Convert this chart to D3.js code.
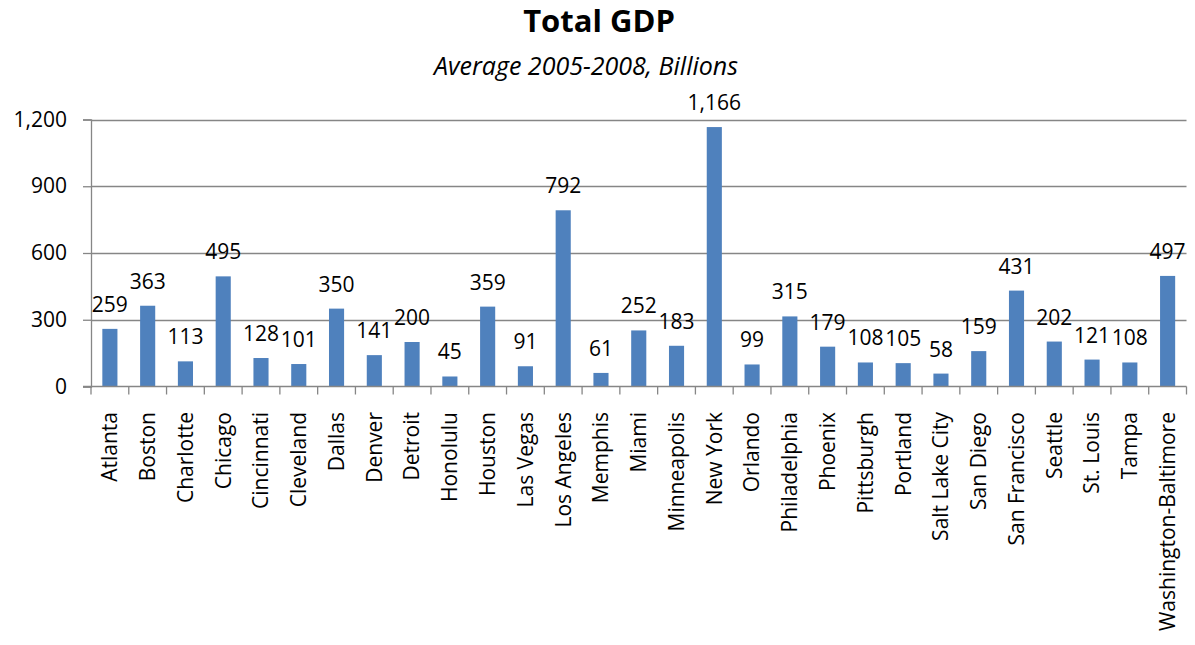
<!DOCTYPE html>
<html>
<head>
<meta charset="utf-8">
<script src="https://cdn.jsdelivr.net/npm/d3@7"></script>
<style>
  html, body { margin: 0; padding: 0; background: #ffffff; }
  svg { display: block; font-family: "Open Sans", "Liberation Sans", sans-serif; }
</style>
</head>
<body>
<svg id="chart" width="1195" height="645"></svg>
<script>
// Metro areas and their average GDP, 2005-2008 (billions of dollars)
const cities = [
  "Atlanta", "Boston", "Charlotte", "Chicago", "Cincinnati", "Cleveland",
  "Dallas", "Denver", "Detroit", "Honolulu", "Houston", "Las Vegas",
  "Los Angeles", "Memphis", "Miami", "Minneapolis", "New York", "Orlando",
  "Philadelphia", "Phoenix", "Pittsburgh", "Portland", "Salt Lake City",
  "San Diego", "San Francisco", "Seattle", "St. Louis", "Tampa",
  "Washington-Baltimore"
];
const gdp = [
  259, 363, 113, 495, 128, 101,
  350, 141, 200, 45, 359, 91,
  792, 61, 252, 183, 1166, 99,
  315, 179, 108, 105, 58,
  159, 431, 202, 121, 108,
  497
];
const yTicks = [0, 300, 600, 900, 1200];

const titleText = "Total GDP";
const subtitleText = "Average 2005-2008, Billions";

const svg = d3.select("#chart");
const plot = { left: 91, right: 1186.5, top: 119.5, bottom: 386.5 };
const gridColor = "#868686";
const barColor = "#4F81BD";
const fontSize = 21;

const x = d3.scaleBand()
  .domain(cities)
  .range([plot.left, plot.right])
  .padding(0);

const y = d3.scaleLinear()
  .domain([0, 1200])
  .range([plot.bottom, plot.top]);

// Title and subtitle
svg.append("text")
  .attr("x", 599).attr("y", 32)
  .attr("text-anchor", "middle")
  .attr("font-weight", "bold")
  .attr("font-size", 31)
  .attr("fill", "#000")
  .text(titleText);

svg.append("text")
  .attr("x", 586).attr("y", 75)
  .attr("text-anchor", "middle")
  .attr("font-style", "italic")
  .attr("font-size", 25)
  .attr("fill", "#000")
  .text(subtitleText);

// Horizontal gridlines
svg.append("g")
  .selectAll("line")
  .data(yTicks.filter(d => d > 0))
  .join("line")
  .attr("x1", plot.left).attr("x2", plot.right)
  .attr("y1", d => Math.round(y(d)) + 0.5)
  .attr("y2", d => Math.round(y(d)) + 0.5)
  .attr("stroke", gridColor)
  .attr("stroke-width", 1.3);

// Y axis
const yAxis = svg.append("g")
  .attr("transform", `translate(${plot.left},0)`)
  .call(d3.axisLeft(y).tickValues(yTicks).tickFormat(d3.format(",")).tickSize(8).tickPadding(16));
yAxis.select(".domain").attr("stroke", gridColor).attr("stroke-width", 1.3);
yAxis.selectAll(".tick line").attr("stroke", gridColor).attr("stroke-width", 1.3);
yAxis.selectAll(".tick text")
  .attr("font-size", fontSize)
  .attr("font-family", "'Open Sans', 'Liberation Sans', sans-serif")
  .attr("fill", "#000");

// Bars
const barW = x.bandwidth() * 0.4;
svg.append("g")
  .selectAll("rect")
  .data(cities.map((c, i) => ({ city: c, value: gdp[i] })))
  .join("rect")
  .attr("x", d => x(d.city) + (x.bandwidth() - barW) / 2)
  .attr("y", d => y(d.value))
  .attr("width", barW)
  .attr("height", d => y(0) - y(d.value))
  .attr("fill", barColor);

// Value labels
svg.append("g")
  .selectAll("text")
  .data(cities.map((c, i) => ({ city: c, value: gdp[i] })))
  .join("text")
  .attr("x", d => x(d.city) + x.bandwidth() / 2)
  .attr("y", d => y(d.value) - 17)
  .attr("text-anchor", "middle")
  .attr("font-size", fontSize)
  .attr("fill", "#000")
  .text(d => d3.format(",")(d.value));

// X axis line and category boundary ticks
const xAxis = svg.append("g");
xAxis.append("line")
  .attr("x1", plot.left - 8).attr("x2", plot.right)
  .attr("y1", plot.bottom).attr("y2", plot.bottom)
  .attr("stroke", gridColor).attr("stroke-width", 1.3);
const bounds = cities.map(c => x(c)).concat([plot.right]);
xAxis.selectAll("line.tick")
  .data(bounds)
  .join("line")
  .attr("class", "tick")
  .attr("x1", d => d).attr("x2", d => d)
  .attr("y1", plot.bottom).attr("y2", plot.bottom + 8)
  .attr("stroke", gridColor).attr("stroke-width", 1.3);

// Rotated category labels
xAxis.selectAll("text")
  .data(cities)
  .join("text")
  .attr("transform", d => `translate(${x(d) + x.bandwidth() / 2},412) rotate(-90)`)
  .attr("text-anchor", "end")
  .attr("dy", "0.35em")
  .attr("font-size", fontSize)
  .attr("fill", "#000")
  .text(d => d);
</script>
</body>
</html>
